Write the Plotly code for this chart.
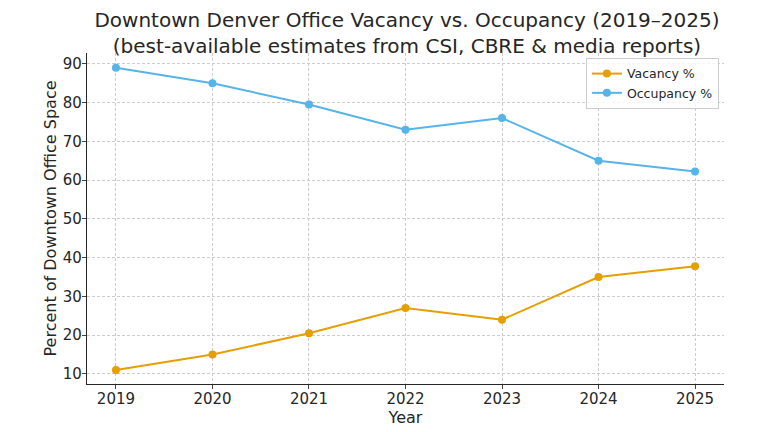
import plotly.graph_objects as go

years = [2019, 2020, 2021, 2022, 2023, 2024, 2025]
vacancy = [11.0, 15.0, 20.5, 27.0, 24.0, 35.0, 37.8]
occupancy = [89.0, 85.0, 79.5, 73.0, 76.0, 65.0, 62.2]
title_lines = ["Downtown Denver Office Vacancy vs. Occupancy (2019–2025)",
               "(best-available estimates from CSI, CBRE &amp; media reports)"]

fig = go.Figure()
fig.add_trace(go.Scatter(x=years, y=vacancy, mode="lines+markers", name="Vacancy %",
                         line=dict(color="#E69F00", width=2), marker=dict(size=8, color="#E69F00")))
fig.add_trace(go.Scatter(x=years, y=occupancy, mode="lines+markers", name="Occupancy %",
                         line=dict(color="#56B4E9", width=2), marker=dict(size=8, color="#56B4E9")))

fig.update_layout(
    width=760, height=424,
    paper_bgcolor="white", plot_bgcolor="white",
    margin=dict(l=79, r=44, t=45, b=48, autoexpand=False),
    font=dict(family="DejaVu Sans", color="#262626", size=15),
    title=dict(text="<br>".join(title_lines), x=0.525, xanchor="center", xref="container",
               y=0.955, yref="container", yanchor="top", font=dict(size=20, color="#262626")),
    showlegend=True,
    legend=dict(x=0.992, y=0.985, xanchor="right", yanchor="top", bgcolor="rgba(255,255,255,0.8)",
                bordercolor="#cccccc", borderwidth=1, font=dict(size=12.5)),
    xaxis=dict(title=dict(text="Year", font=dict(size=16), standoff=2), range=[2018.7, 2025.3],
               tickmode="array", tickvals=years, ticks="outside", ticklen=4, automargin=False,
               ticklabelstandoff=-3,
               showline=True, linecolor="#262626", linewidth=1.2, mirror=False,
               showgrid=True, gridcolor="#cccccc", griddash="3px,2px", gridwidth=1, zeroline=False,
               tickfont=dict(size=15)),
    yaxis=dict(title=dict(text="Percent of Downtown Office Space", font=dict(size=16), standoff=2), range=[7.4, 92.8],
               tickmode="array", tickvals=[10, 20, 30, 40, 50, 60, 70, 80, 90], ticks="outside", ticklen=4,
               automargin=False, ticklabelstandoff=-3,
               showline=True, linecolor="#262626", linewidth=1.2, mirror=False,
               showgrid=True, gridcolor="#cccccc", griddash="3px,2px", gridwidth=1, zeroline=False,
               tickfont=dict(size=15)),
)

fig.write_html("out.html")
